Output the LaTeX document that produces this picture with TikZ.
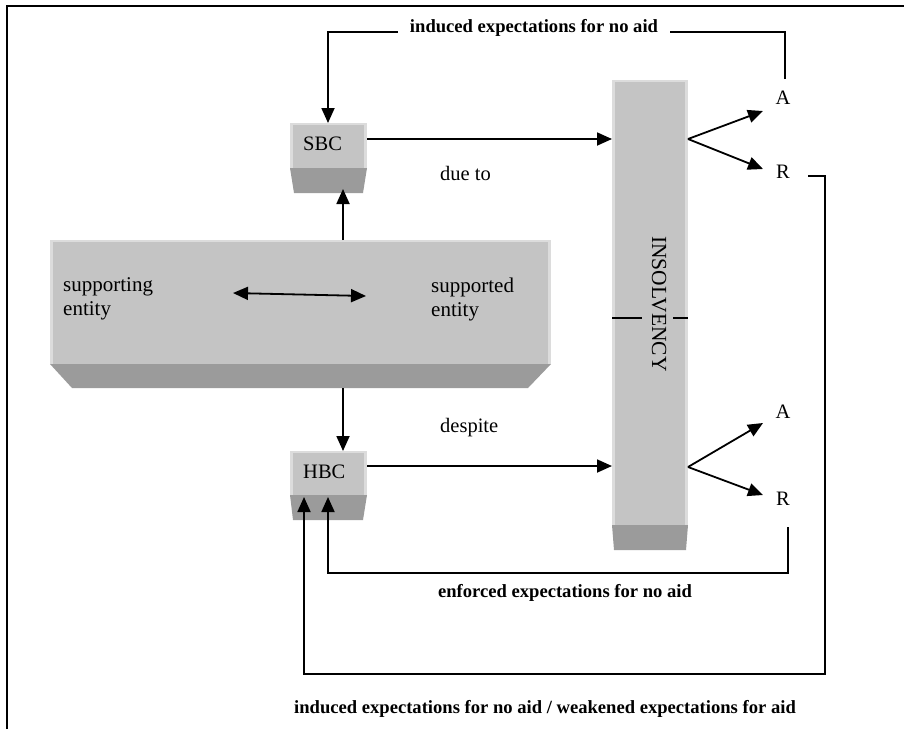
\documentclass[tikz,border=0pt]{standalone}
\usepackage{fontspec}
\setmainfont{Liberation Serif}
\usetikzlibrary{arrows.meta,calc}
\definecolor{facec}{HTML}{C4C4C4}
\definecolor{edgec}{HTML}{DCDCDC}
\definecolor{bevc}{HTML}{9B9B9B}
\begin{document}
\begin{tikzpicture}[x=1pt,y=-1pt,
  conn/.style={line width=1.8pt,-{Triangle[length=15pt,width=13pt]}},
  dconn/.style={line width=1.8pt,{Triangle[length=15pt,width=13pt]}-{Triangle[length=15pt,width=13pt]}},
  plain/.style={line width=1.8pt},
  lbl/.style={font=\fontsize{20.5}{23.5}\selectfont, inner sep=0pt},
  blbl/.style={font=\fontsize{18.6}{21}\selectfont\bfseries, inner sep=0pt},
  facebox/.style={draw=none, fill=facec, inner sep=0pt, outer sep=0pt}
]
\useasboundingbox (0,0) rectangle (904,729);
% frame
\draw[line width=2.5pt] (7,729) -- (7,6) -- (904,6);

% ---- boxes: face node + bevel + edge highlights
% SBC
\node[facebox, minimum width=77pt, minimum height=45pt, anchor=north west] (sbcbox) at (290,123) {};
\fill[bevc] (sbcbox.south west) -- (sbcbox.south east) -- ++(-4,25) -- ($(sbcbox.south west)+(4,25)$) -- cycle;
% HBC
\node[facebox, minimum width=77pt, minimum height=44pt, anchor=north west] (hbcbox) at (290,451) {};
\fill[bevc] (hbcbox.south west) -- (hbcbox.south east) -- ++(-4,25) -- ($(hbcbox.south west)+(3,25)$) -- cycle;
% big box
\node[facebox, minimum width=501pt, minimum height=124pt, anchor=north west] (bigbox) at (50,240) {};
\fill[bevc] (bigbox.south west) -- (bigbox.south east) -- ++(-23,24) -- ($(bigbox.south west)+(22,24)$) -- cycle;
% bar
\node[facebox, minimum width=76pt, minimum height=445pt, anchor=north west] (barbox) at (612,80) {};
\fill[bevc] (barbox.south west) -- (barbox.south east) -- ++(-2,25) -- ($(barbox.south west)+(2,25)$) -- cycle;
% highlights
\foreach \b in {sbcbox,hbcbox,bigbox,barbox}{
  \fill[edgec] (\b.north west) rectangle ([xshift=3pt]\b.south west);
  \fill[edgec] ([xshift=-3pt]\b.north east) rectangle (\b.south east);
  \fill[edgec] (\b.north west) rectangle ([yshift=-2pt]\b.north east);
}

% ---- texts
\node[lbl, anchor=west] (sbc) at (303,144) {SBC};
\node[lbl, anchor=west] (hbc) at (303,472) {HBC};
\node[lbl, align=left, anchor=west, font=\fontsize{21}{24}\selectfont] (sup1) at (63,299) {supporting\\entity};
\node[lbl, align=left, anchor=west, font=\fontsize{21}{24}\selectfont] (sup2) at (431,299) {supported\\entity};
\node[lbl, rotate=-90, font=\fontsize{21.5}{24}\selectfont] (insol) at (659,304) {INSOLVENCY};
\node[lbl, anchor=west] (dueto) at (440,173) {due to};
\node[lbl, anchor=west] (despite) at (440,428) {despite};
\node[lbl] (A1) at (783,98) {A};
\node[lbl] (R1) at (783,172) {R};
\node[lbl] (A2) at (783,412) {A};
\node[lbl] (R2) at (783,499) {R};

% tick on bar
\draw[plain] (barbox.west |- 0,318) -- (642,318);
\draw[plain] (673,318) -- (barbox.east |- 0,318);

% ---- connectors
\coordinate (topA) at (785,79);
\draw[conn] (topA) |- (328,32) -- (sbcbox.north -| 328,0);
\node[blbl, fill=white, inner xsep=12pt, inner ysep=3pt, anchor=base] (lbltop) at (534,32) {induced expectations for no aid};

\draw[conn] (sbcbox.east |- 0,139) -- (barbox.west |- 0,139);
\draw[conn] (hbcbox.east |- 0,466) -- (barbox.west |- 0,466);

\coordinate (fan1) at (barbox.east |- 0,139);
\coordinate (fan2) at (barbox.east |- 0,467);
\coordinate (tA1) at (763,111);
\coordinate (tR1) at (763,169);
\coordinate (tA2) at (763,423);
\coordinate (tR2) at (763,495);
\draw[conn] (fan1) -- (tA1);
\draw[conn] (fan1) -- (tR1);
\draw[conn] (fan2) -- (tA2);
\draw[conn] (fan2) -- (tR2);

\draw[dconn] (233,293) -- (366,296);

\draw[conn] (bigbox.north -| 343,0) -- (343,189);
\draw[conn] (343,388) -- (hbcbox.north -| 343,0);

\coordinate (rb) at (788,527);
\draw[conn] (rb) |- (328,573) -- (328,497);
\node[blbl] (lblenf) at (565,593) {enforced expectations for no aid};

\coordinate (rt) at (808,176);
\draw[conn] (rt) -- (825,176) |- (304,674) -- (304,497);
\node[blbl] (lblbot) at (545,709) {induced expectations for no aid / weakened expectations for aid};
\end{tikzpicture}
\end{document}
